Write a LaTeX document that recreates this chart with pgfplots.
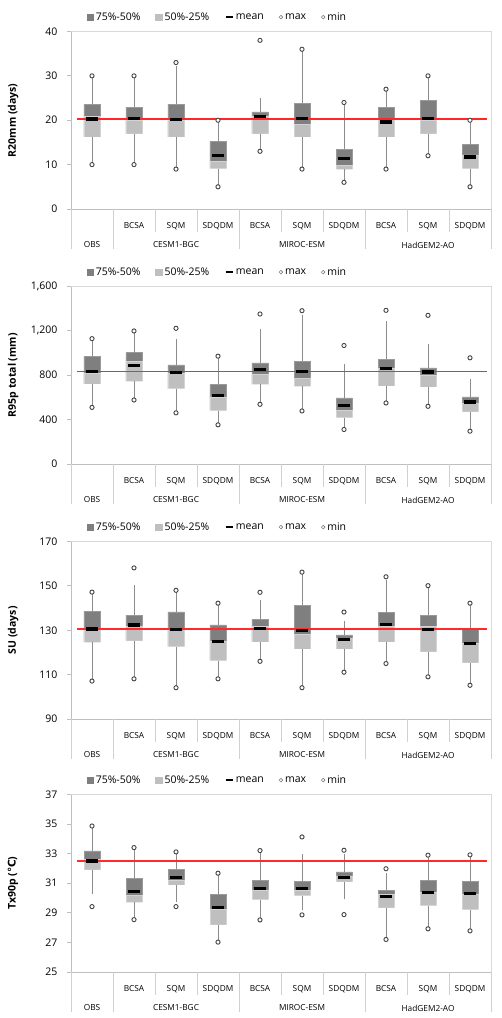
\documentclass[border=0pt]{standalone}
\usepackage{fontspec}
\setmainfont{Open Sans}
\newfontfamily\djv{DejaVu Sans}
\usepackage{pgfplots}
\usepackage{pgfplotstable}
\pgfplotsset{compat=1.18}

\definecolor{boxdark}{HTML}{7F7F7F}
\definecolor{boxdarkedge}{HTML}{9A9A9A}
\definecolor{boxlight}{HTML}{BFBFBF}
\definecolor{boxlightedge}{HTML}{D3D3D3}
\definecolor{whisk}{HTML}{8C8C8C}
\definecolor{ring}{HTML}{454545}
% one shade of red per panel for the OBS reference line
\definecolor{obsredA}{RGB}{255,40,40}
\definecolor{obsredB}{RGB}{254,41,41}
\definecolor{obsredC}{RGB}{255,42,42}
\definecolor{obsredD}{RGB}{254,43,43}
\definecolor{axgray}{HTML}{BFBFBF}
\definecolor{sepgray}{HTML}{D0D0D0}
\definecolor{framegray}{HTML}{D9D9D9}

% columns: position, 25%, 50%, 75%, whisker ends, mean, min, max
\pgfplotstableread{
x q1 med q3 wlo whi mean min max
0 16.2 20.8 23.6 10 30 20.3 10 30
1 16.9 20.0 22.9 10 30 20.4 10 30
2 16.2 20.0 23.6 9 31.8 20.2 9 33
3 9.1 10.8 15.2 5 20 12.0 5 20
4 16.9 21.0 21.9 13 24.5 20.8 13 38
5 16.2 19.0 23.8 9 36 20.4 9 36
6 8.9 9.8 13.5 6 23 11.4 6 24
7 16.2 20.2 22.9 9 27 19.6 9 27
8 16.9 20.0 24.5 12 30 20.4 12 30
9 9.1 12.2 14.5 5 20 11.7 5 20
}\rtwenty

\pgfplotstableread{
x q1 med q3 wlo whi mean min max
0 720 820 972 510 1130 834 510 1130
1 745 924 1005 577 1199 888 577 1199
2 679 814 894 461 1110 822 461 1223
3 482 604 715 353 972 619 353 972
4 718 808 912 538 1196 849 538 1352
5 700 775 924 505 1328 834 478 1382
6 419 485 595 311 879 529 311 1068
7 703 860 945 550 1268 858 550 1385
8 694 799 867 520 1068 828 520 1340
9 470 544 604 296 745 559 296 957
}\rninetyfive

\pgfplotstableread{
x q1 med q3 wlo whi mean min max
0 124.5 130.9 138.6 108.9 147.2 130.6 107.1 147.2
1 125.2 131.6 136.8 108.1 149.5 132.4 108.1 158.1
2 122.6 130.9 138.3 104.1 148 130.3 104.1 148
3 116.3 125.2 132.4 108.1 142.2 124.9 108.1 142.2
4 124.6 131.9 134.9 116.0 142.8 130.9 116.0 147.1
5 121.5 128.2 141.3 104.1 156.2 130.0 104.1 156.2
6 121.5 126.4 127.9 111.1 133.1 125.7 111.1 138.2
7 124.6 131.6 137.9 115.0 151.7 132.7 115.0 154.1
8 120.3 131.6 136.8 109.0 150.1 130.3 109.0 150.1
9 115.3 124.0 130.4 105.2 142.2 123.9 105.2 142.2
}\su

\pgfplotstableread{
x q1 med q3 wlo whi mean min max
0 31.91 32.63 33.19 30.38 34.87 32.5 29.42 34.87
1 29.71 30.2 31.33 28.54 33.41 30.43 28.54 33.41
2 30.88 31.17 31.95 29.87 33.12 31.37 29.42 33.12
3 28.19 29.22 30.27 27.02 31.68 29.37 27.02 31.68
4 29.89 30.5 31.17 28.52 32.9 30.63 28.52 33.21
5 30.16 30.5 31.1 29.31 32.85 30.63 28.86 34.13
6 31.1 31.5 31.77 30.05 32.85 31.37 28.88 33.23
7 29.33 30.27 30.54 27.2 31.55 30.09 27.2 31.98
8 29.49 30.38 31.17 27.92 32.9 30.38 27.92 32.9
9 29.22 30.27 31.1 27.78 32.92 30.32 27.78 32.92
}\txninety

\pgfplotsset{
  boxpanel/.style={
    scale only axis, width=420pt, height=177.5pt, anchor=south west,
    xmin=-0.5, xmax=9.5,
    axis x line*=bottom, axis y line*=left,
    axis line style={draw=axgray, line width=0.8pt},
    tick align=outside, major tick length=4pt,
    /pgf/number format/assume math mode=true,
    ytick style={draw=axgray, line width=0.8pt},
    yticklabel style={font=\fontsize{10.5}{12}\selectfont, xshift=-6pt},
    xtick={0,...,9},
    xticklabels={,BCSA,SQM,SDQDM,BCSA,SQM,SDQDM,BCSA,SQM,SDQDM},
    xticklabel style={font=\fontsize{8.3}{10}\selectfont, anchor=center, yshift=-13pt},
    xtick style={draw=none},
    every axis y label/.style={at={(axis description cs:-0.138,0.5)}, rotate=90, anchor=center,
      font=\fontsize{10.5}{12}\selectfont\bfseries},
    legend columns=5,
    legend style={at={(axis description cs:0.0374,1.081)}, anchor=west, draw=none, fill=none,
      inner sep=0pt, outer sep=0pt, font=\fontsize{10.5}{12}\selectfont,
      /tikz/every even column/.append style={column sep=13pt}},
    % plot frame, category separators and model names
    after end axis/.append code={
      \draw[framegray, line width=0.8pt] (rel axis cs:0,1) -- (rel axis cs:1,1) -- (rel axis cs:1,0);
      \foreach \s in {0.2,0.3,0.5,0.6,0.8,0.9}
        \draw[sepgray, line width=0.8pt] (rel axis cs:\s,0) -- ++(0pt,-23pt);
      \foreach \s in {0,0.1,0.4,0.7,1}
        \draw[sepgray, line width=0.8pt] (rel axis cs:\s,0) -- ++(0pt,-40pt);
      \node[font=\fontsize{8.3}{10}\selectfont] at (rel axis cs:0.05,0) [yshift=-36pt] {OBS};
      \node[font=\fontsize{8.3}{10}\selectfont] at (rel axis cs:0.25,0) [yshift=-36pt] {CESM1-BGC};
      \node[font=\fontsize{8.3}{10}\selectfont] at (rel axis cs:0.55,0) [yshift=-36pt] {MIROC-ESM};
      \node[font=\fontsize{8.3}{10}\selectfont] at (rel axis cs:0.85,0) [yshift=-36pt] {HadGEM2-AO};
    },
  },
  boxbar/.style={ybar, bar shift=0pt, forget plot},
  whisker/.style={draw=none, mark=none, forget plot,
    error bars/.cd, y explicit,
    error bar style={draw=whisk, line width=0.8pt},
    error mark options={draw=whisk, line width=0.8pt, mark size=2pt}},
}

% one panel: #1 bottom edge, #2 table, #3 ymin, #4 ymax, #5 y ticks, #6 y label,
% #7 OBS mean, #8 colour of the OBS line
\newcommand\panel[8]{%
\begin{axis}[boxpanel, at={(71pt,#1)}, ymin=#3, ymax=#4, ytick={#5}, ylabel={#6}]
  \addlegendimage{legend image code/.code={\fill[boxdark] (0pt,-3.3pt) rectangle (6.7pt,3.4pt);}}
  \addlegendentry{75\%-50\%}
  \addlegendimage{legend image code/.code={\fill[boxlight] (0pt,-3.3pt) rectangle (6.7pt,3.4pt);}}
  \addlegendentry{50\%-25\%}
  \addlegendimage{legend image code/.code={\draw[black, line width=2.6pt] (0pt,0pt) -- (7pt,0pt);}}
  \addlegendentry{mean}
  \addlegendimage{legend image code/.code={\draw[gray, line width=0.6pt, fill=white] (2pt,0pt) circle (1.8pt);}}
  \addlegendentry{max}
  \addlegendimage{legend image code/.code={\draw[gray, line width=0.6pt, fill=white] (2pt,0pt) circle (1.8pt);}}
  \addlegendentry{min}
  % boxes: upper half, lower half, blank below the 25% quantile
  \addplot[boxbar, bar width=16pt, fill=boxdark, draw=boxdarkedge, line width=0.6pt] table[x=x, y=q3] {#2};
  \addplot[boxbar, bar width=16pt, fill=boxlight, draw=boxlightedge, line width=0.6pt] table[x=x, y=med] {#2};
  \addplot[boxbar, bar width=17.8pt, fill=white, draw=none] table[x=x, y=q1] {#2};
  % whiskers
  \addplot[whisker, y dir=plus] table[x=x, y=q3, y error expr=\thisrow{whi}-\thisrow{q3}] {#2};
  \addplot[whisker, y dir=minus] table[x=x, y=q1, y error expr=\thisrow{q1}-\thisrow{wlo}] {#2};
  % means
  \addplot[only marks, mark=-, mark size=5.8pt, forget plot,
    mark options={draw=black, line width=3.3pt}] table[x=x, y=mean] {#2};
  % extremes
  \addplot[only marks, mark=*, mark size=2.1pt, forget plot,
    mark options={draw=ring, fill=white, line width=0.9pt}] table[x=x, y=max] {#2};
  \addplot[only marks, mark=*, mark size=2.1pt, forget plot,
    mark options={draw=ring, fill=white, line width=0.9pt}] table[x=x, y=min] {#2};
  % OBS mean as reference level
  \addplot[draw=#8, line width=1.25pt, sharp plot, mark=none, forget plot]
    table[row sep=\\] {x y\\ -0.36 #7\\ 9.4 #7\\};
\end{axis}}

\begin{document}
\begin{tikzpicture}
\useasboundingbox (0,0) rectangle (501pt,1018pt);
\panel{809pt}{\rtwenty}{0}{40}{0,10,...,40}{R20mm (days)}{20.3}{obsredA}
\panel{554pt}{\rninetyfive}{0}{1600}{0,400,...,1600}{R95p total (mm)}{834}{obsredB}
\panel{299pt}{\su}{90}{170}{90,110,...,170}{SU (days)}{130.6}{obsredC}
\panel{46pt}{\txninety}{25}{37}{25,27,...,37}{Tx90p ({\djv\bfseries ℃})}{32.5}{obsredD}
\end{tikzpicture}
\end{document}
